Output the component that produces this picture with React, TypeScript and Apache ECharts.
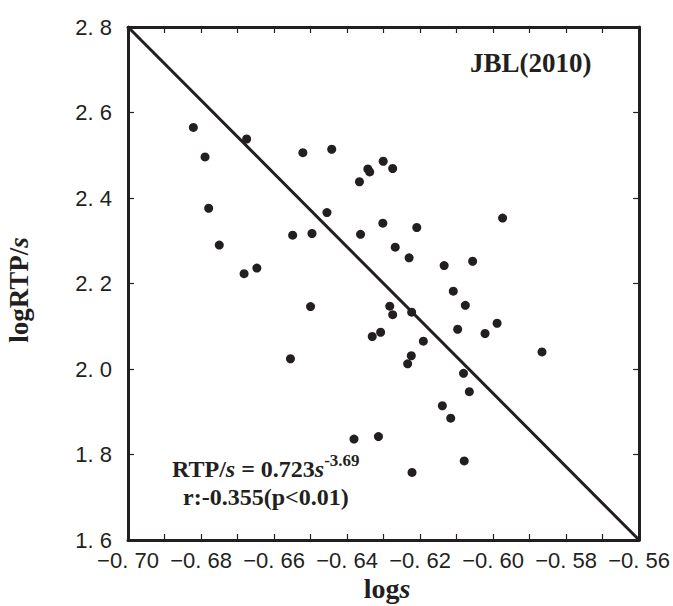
import React, { useEffect, useRef } from "react";
import * as echarts from "echarts";

// logs (x) and logRTP/s (y) for each observation
const logS = [
  -0.6821, -0.6789, -0.6779, -0.675, -0.6682, -0.6675, -0.6647, -0.6549, -0.6521, -0.65,
  -0.6496, -0.6555, -0.6455, -0.6442, -0.6366, -0.6363, -0.6343, -0.6338, -0.6301, -0.6302,
  -0.6275, -0.6268, -0.623, -0.6209, -0.6283, -0.6275, -0.6331, -0.6308, -0.6223, -0.6191,
  -0.6224, -0.6234, -0.6381, -0.6314, -0.6222, -0.6139, -0.6116, -0.6081, -0.6065, -0.6079,
  -0.6134, -0.6109, -0.6076, -0.6097, -0.6056, -0.6022, -0.5989, -0.5974, -0.5866,
];
const logRTPs = [
  2.565, 2.496, 2.376, 2.29, 2.223, 2.538, 2.236, 2.313, 2.506, 2.146,
  2.317, 2.024, 2.366, 2.514, 2.438, 2.315, 2.468, 2.461, 2.486, 2.341,
  2.469, 2.285, 2.26, 2.331, 2.147, 2.127, 2.076, 2.086, 2.133, 2.065,
  2.031, 2.012, 1.836, 1.842, 1.758, 1.914, 1.885, 1.99, 1.947, 1.785,
  2.242, 2.182, 2.149, 2.093, 2.252, 2.083, 2.107, 2.353, 2.04,
];
// regression line endpoints as drawn
const fitX = [-0.7, -0.56];
const fitY = [2.8, 1.6];

const xMin = -0.7;
const xMax = -0.56;
const xStep = 0.02;
const yMin = 1.6;
const yMax = 2.8;
const yStep = 0.2;

const INK = "#231f20";
const NARROW = "'Liberation Sans Narrow', 'Liberation Sans', sans-serif";
const SERIF = "'Liberation Serif', 'Times New Roman', serif";

const fmt = (v: number, d: number) =>
  v.toFixed(d).replace("-", "\u2212").replace(".", ". ");

export default function App() {
  const ref = useRef<HTMLDivElement>(null);

  useEffect(() => {
    if (!ref.current) return;
    const chart = echarts.init(ref.current, undefined, { renderer: "svg" });

    const points = logS.map((x, i) => [x, logRTPs[i]]);
    const fit = fitX.map((x, i) => [x, fitY[i]]);

    const axisLine = { show: true, onZero: false, lineStyle: { color: INK, width: 3 } };
    const tick = { show: true, inside: true, length: 6, lineStyle: { color: INK, width: 1.2 } };
    const minorTick = { show: true, splitNumber: 2, length: 6, lineStyle: { color: INK, width: 1.2 } };

    const xBase = {
      type: "value" as const,
      min: xMin,
      max: xMax,
      interval: xStep,
      splitLine: { show: false },
      axisLine,
      axisTick: tick,
      minorTick,
    };
    const yBase = {
      type: "value" as const,
      min: yMin,
      max: yMax,
      interval: yStep,
      splitLine: { show: false },
      axisLine,
      axisTick: tick,
    };

    chart.setOption({
      animation: false,
      backgroundColor: "#ffffff",
      grid: { left: 128, right: 33, top: 27, bottom: 66, containLabel: false },
      xAxis: [
        {
          ...xBase,
          position: "bottom",
          axisLabel: {
            show: true,
            margin: 9,
            color: INK,
            fontFamily: NARROW,
            fontSize: 22,
            formatter: (v: number) => fmt(v, 2),
          },
        },
        { ...xBase, position: "top", axisLabel: { show: false } },
      ],
      yAxis: [
        {
          ...yBase,
          position: "left",
          axisLabel: {
            show: true,
            margin: 16,
            color: INK,
            fontFamily: NARROW,
            fontSize: 22,
            formatter: (v: number) => fmt(v, 1),
          },
        },
        { ...yBase, position: "right", axisLabel: { show: false } },
      ],
      series: [
        {
          type: "line",
          data: fit,
          symbol: "none",
          lineStyle: { color: INK, width: 3 },
          silent: true,
          z: 2,
        },
        {
          type: "scatter",
          data: points,
          symbol: "circle",
          symbolSize: 9,
          itemStyle: { color: INK, opacity: 1 },
          z: 3,
        },
      ],
      graphic: [
        {
          type: "text",
          x: 470,
          y: 63,
          style: {
            text: "JBL(2010)",
            fill: INK,
            font: `bold 27px ${SERIF}`,
            align: "left",
            verticalAlign: "middle",
          },
        },
        {
          type: "text",
          x: 172,
          y: 469,
          style: {
            text: "{n|RTP/}{i|s}{n| = 0.723}{i|s}{sup|-3.69}",
            align: "left",
            verticalAlign: "middle",
            fill: INK,
            rich: {
              n: { fontFamily: SERIF, fontWeight: "bold", fontSize: 24, fill: INK },
              i: { fontFamily: SERIF, fontWeight: "bold", fontStyle: "italic", fontSize: 24, fill: INK },
              sup: { fontFamily: SERIF, fontWeight: "bold", fontSize: 17, fill: INK, padding: [0, 0, 17, 0] },
            },
          },
        },
        {
          type: "text",
          x: 183,
          y: 497,
          style: {
            text: "r:-0.355(p<0.01)",
            fill: INK,
            font: `bold 24px ${SERIF}`,
            align: "left",
            verticalAlign: "middle",
          },
        },
        {
          type: "text",
          x: 387,
          y: 588,
          style: {
            text: "{b|log}{i|s}",
            align: "center",
            verticalAlign: "middle",
            rich: {
              b: { fontFamily: SERIF, fontWeight: "bold", fontSize: 28, fill: INK },
              i: { fontFamily: SERIF, fontWeight: "bold", fontStyle: "italic", fontSize: 28, fill: INK },
            },
          },
        },
        {
          type: "text",
          x: 19,
          y: 290,
          rotation: Math.PI / 2,
          style: {
            text: "{b|logRTP/}{i|s}",
            align: "center",
            verticalAlign: "middle",
            rich: {
              b: { fontFamily: SERIF, fontWeight: "bold", fontSize: 27, fill: INK },
              i: { fontFamily: SERIF, fontWeight: "bold", fontStyle: "italic", fontSize: 27, fill: INK },
            },
          },
        },
      ],
    });

    return () => chart.dispose();
  }, []);

  return (
    <div
      ref={ref}
      style={{ position: "absolute", left: 0, top: 0, width: 673, height: 606, background: "#fff" }}
    />
  );
}
